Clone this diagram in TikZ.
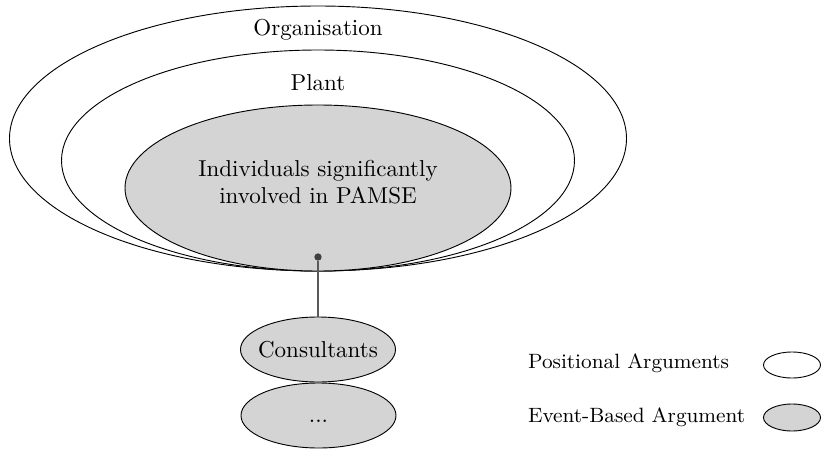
\documentclass[tikz,border=0pt]{standalone}
\usetikzlibrary{shapes.geometric}
\newcommand{\pxsz}{0.4348pt}
\definecolor{argfill}{gray}{0.83}
\tikzset{
  scopering/.style={ellipse, draw=black, fill=white, inner sep=0pt},
  eventarg/.style={ellipse, draw=black, fill=argfill, inner sep=0pt},
  ringlabel/.style={font=\normalsize, align=center},
  legendtext/.style={font=\small, anchor=west},
  linkline/.style={draw=black!65, line width=0.5pt},
  linkdot/.style={circle, fill=black!75, inner sep=0pt, minimum size=3.2pt}
}
\begin{document}
\begin{tikzpicture}[x=\pxsz, y=-\pxsz]
\useasboundingbox (0,0) rectangle (821,450);

% nested scopes of the positional arguments
\node[scopering, minimum width=617*\pxsz, minimum height=265*\pxsz] (org) at (318,138.5) {};
\node[scopering, minimum width=513*\pxsz, minimum height=221*\pxsz] (plant) at (318,160.5) {};
\node[eventarg, minimum width=386*\pxsz, minimum height=166*\pxsz] (indiv) at (318,188) {};

\node[ringlabel] (orglabel) at (318,30) {Organisation};
\node[ringlabel] (plantlabel) at (318,83) {Plant};
\node[ringlabel] (indivlabel) at (318,182) {Individuals significantly\\involved in PAMSE};

% event-based arguments outside the organisation
\node[eventarg, minimum width=155*\pxsz, minimum height=65*\pxsz] (consult) at (318,349.5) {};
\node[ringlabel] (consultlabel) at (318,350) {Consultants};
\node[eventarg, minimum width=155*\pxsz, minimum height=65*\pxsz] (more) at (318.5,415.5) {};
\node[ringlabel] (morelabel) at (318.5,421) {...};

\node[linkdot] (hub) at (318,257) {};
\draw[linkline] (hub) -- (consult.north);

% legend
\node[legendtext] (poslabel) at (520,363) {Positional Arguments};
\node[legendtext] (evlabel) at (520,417) {Event-Based Argument};
\node[scopering, minimum width=57*\pxsz, minimum height=26*\pxsz] (poskey) at (792,365) {};
\node[eventarg, minimum width=57*\pxsz, minimum height=27*\pxsz] (evkey) at (792,417.5) {};
\end{tikzpicture}
\end{document}
